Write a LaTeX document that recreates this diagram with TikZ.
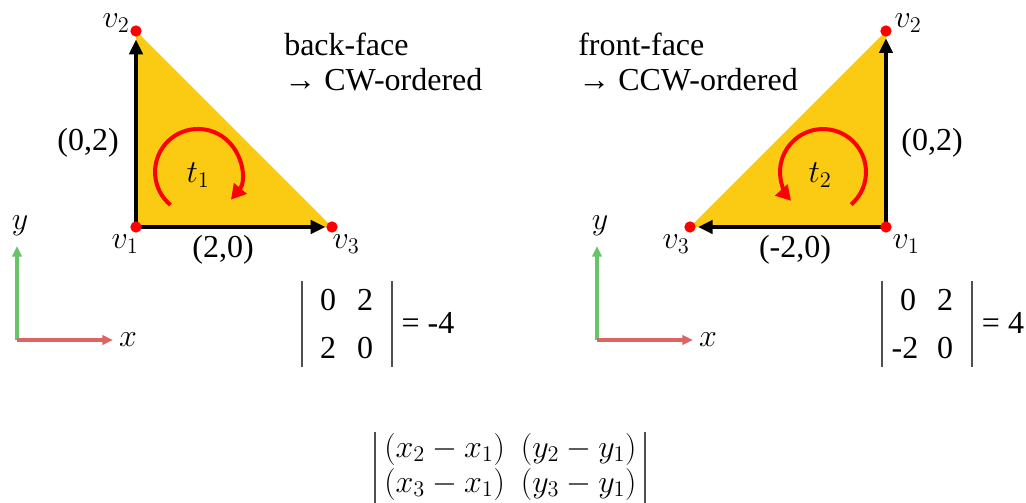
\RequirePackage{fix-cm}
\documentclass[tikz,border=0pt]{standalone}
\usepackage[no-math]{fontspec}
\setmainfont{Liberation Serif}
\newfontfamily\tnr{Liberation Serif}
\usetikzlibrary{arrows.meta}
\definecolor{triyellow}{RGB}{250,203,18}
\definecolor{dotred}{RGB}{255,0,0}
\definecolor{axgreen}{RGB}{105,195,105}
\definecolor{axred}{RGB}{222,100,100}
\definecolor{bargray}{RGB}{80,80,80}
\tikzset{
 x=0.75pt, y=-0.75pt,
 txt/.style={font=\tnr\fontsize{24}{28}\selectfont, inner sep=0pt},
 frm/.style={font=\fontsize{24}{28}\selectfont, inner sep=0pt},
 vdot/.style={circle, fill=dotred, inner sep=0pt, minimum size=8.5pt},
 vec/.style={line width=2.6pt, -{Triangle[length=11pt,width=10pt]}},
 spin/.style={draw=red, line width=3pt, -{Triangle[length=11pt,width=12pt]}},
 axy/.style={draw=axgreen, line width=2.8pt, -{Triangle[length=8pt,width=7pt]}},
 axx/.style={draw=axred, line width=2.8pt, -{Triangle[length=8pt,width=7pt]}},
 detbar/.style={draw=bargray, line width=1.5pt},
}
\begin{document}
\begin{tikzpicture}
\useasboundingbox (0,0) rectangle (1026,503);
% ---------- left triangle ----------
\coordinate (L1) at (136,227);
\coordinate (L2) at (136,31);
\coordinate (L3) at (332,227);
\fill[triyellow] (L1) -- (L2) -- (L3) -- cycle;
\draw[vec, shorten >=6.5pt] (L1) -- (L2);
\draw[vec, shorten >=5pt] (L1) -- (L3);
\node[vdot] (dL1) at (L1) {};
\node[vdot] (dL2) at (L2) {};
\node[vdot] (dL3) at (L3) {};
\coordinate (sL) at (170.4,204.9);
\draw[spin] (sL) arc[start angle=130, end angle=400, radius=43];
\node[txt] (tL) at (198,175) {$t_1$};
\node[txt] (lv2) at (116,23) {$v_2$};
\node[txt] (lv1) at (125,244) {$v_1$};
\node[txt] (lv3) at (346,244) {$v_3$};
\node[txt] (l02) at (88,143) {(0,2)};
\node[txt] (l20) at (223,250) {(2,0)};
\node[txt, anchor=base west] (bf) at (284,56) {back-face};
\node[txt, anchor=base west] (cw) at (284,91) {→ CW-ordered};
% ---------- right triangle ----------
\coordinate (R1) at (886,227);
\coordinate (R2) at (886,31);
\coordinate (R3) at (690,227);
\fill[triyellow] (R1) -- (R2) -- (R3) -- cycle;
\draw[vec, shorten >=5.5pt] (R1) -- (R2);
\draw[vec, shorten >=6pt] (R1) -- (R3);
\node[vdot] (dR1) at (R1) {};
\node[vdot] (dR2) at (R2) {};
\node[vdot] (dR3) at (R3) {};
\coordinate (sR) at (851.2,204.5);
\draw[spin] (sR) arc[start angle=49, end angle=-222, radius=43];
\node[txt] (tR) at (820,175) {$t_2$};
\node[txt] (rv2) at (908,23) {$v_2$};
\node[txt] (rv1) at (906,244) {$v_1$};
\node[txt] (rv3) at (676,244) {$v_3$};
\node[txt] (r02) at (932,143) {(0,2)};
\node[txt] (r20) at (795,250) {(-2,0)};
\node[txt, anchor=base west] (ff) at (578,56) {front-face};
\node[txt, anchor=base west] (ccw) at (578,91) {→ CCW-ordered};
% ---------- axes ----------
\coordinate (OL) at (17,340);
\coordinate (YL) at (17,246);
\coordinate (XL) at (113,340);
\draw[axy] (OL) -- (YL);
\draw[axx] (OL) -- (XL);
\node[txt] (ayL) at (20,226) {$y$};
\node[txt] (axL) at (128,340) {$x$};
\coordinate (OR) at (597,340);
\coordinate (YR) at (597,246);
\coordinate (XR) at (693,340);
\draw[axy] (OR) -- (YR);
\draw[axx] (OR) -- (XR);
\node[txt] (ayR) at (600,226) {$y$};
\node[txt] (axR) at (708,340) {$x$};
% ---------- determinants ----------
\coordinate (dLa) at (302,281); \coordinate (dLb) at (302,367);
\coordinate (dLc) at (392,281); \coordinate (dLd) at (392,367);
\draw[detbar] (dLa) -- (dLb);
\draw[detbar] (dLc) -- (dLd);
\node[txt] (m11) at (328,300) {0};
\node[txt] (m12) at (365,300) {2};
\node[txt] (m21) at (328,348) {2};
\node[txt] (m22) at (365,348) {0};
\node[txt] (eqL) at (428,323) {= -4};
\coordinate (dRa) at (882,281); \coordinate (dRb) at (882,367);
\coordinate (dRc) at (972,281); \coordinate (dRd) at (972,367);
\draw[detbar] (dRa) -- (dRb);
\draw[detbar] (dRc) -- (dRd);
\node[txt] (n11) at (908,300) {0};
\node[txt] (n12) at (945,300) {2};
\node[txt] (n21) at (905,348) {-2};
\node[txt] (n22) at (945,348) {0};
\node[txt] (eqR) at (1003,323) {= 4};
% ---------- general formula ----------
\coordinate (gLa) at (375,432); \coordinate (gLb) at (375,515);
\coordinate (gRa) at (645,432); \coordinate (gRb) at (645,515);
\draw[detbar] (gLa) -- (gLb);
\draw[detbar] (gRa) -- (gRb);
\node[frm, anchor=base west] (row1) at (384,457) {$(x_2 - x_1)\enspace(y_2 - y_1)$};
\node[frm, anchor=base west] (row2) at (384,492) {$(x_3 - x_1)\enspace(y_3 - y_1)$};
\end{tikzpicture}
\end{document}
